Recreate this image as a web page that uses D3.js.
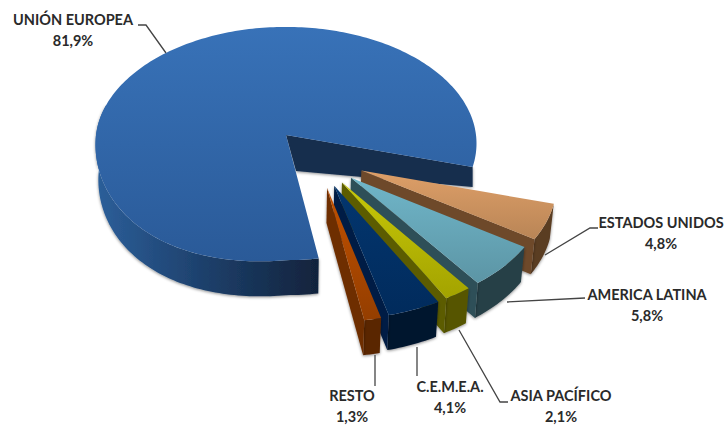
<!DOCTYPE html>
<meta charset="utf-8">
<style>
body { margin: 0; background: #fff; }
text {
  font: bold 14.5px Lato;
  fill: #2a2a2a;
  text-anchor: middle;
}
.leader {
  fill: none;
  stroke: #444;
  stroke-width: 1.3px;
}
</style>
<body>
<script src="https://d3js.org/d3.v7.min.js"></script>
<script>

const regions = ["UNIÓN EUROPEA", "ESTADOS UNIDOS", "AMERICA LATINA", "ASIA PACÍFICO", "C.E.M.E.A.", "RESTO"];
const shares = [81.9, 4.8, 5.8, 2.1, 4.1, 1.3];

// top (start, end), radial face, outer wall
const colors = [
  ["#3872b8", "#2a5a98", "#152d4d", "#2a5a92"],
  ["#de9f68", "#b98556", "#6e4a2c", "#5a3d24"],
  ["#70b6c9", "#5c95a5", "#2f5058", "#273f47"],
  ["#c8c808", "#a3a300", "#5c5c00", "#565500"],
  ["#03366f", "#012b5c", "#021f45", "#00152f"],
  ["#c25100", "#943e00", "#6e2f00", "#5a2600"]
];

// label centre and baselines, then the leader line
const labelLayout = [
  {x: 73, y: 25, line: [[138, 25], [146, 25], [166, 53]]},
  {x: 661, y: 228, line: [[545, 255], [590, 228], [598, 228]]},
  {x: 647, y: 300, line: [[507, 302], [585, 298]]},
  {x: 561, y: 401, line: [[459, 330], [500, 402], [508, 402]]},
  {x: 450, y: 392, line: [[417, 347], [417, 376]]},
  {x: 352, y: 401, line: [[375, 355], [375, 386]]}
];

let width = 726,
    height = 427,
    cx = 286,
    cy = 135,
    rx = 190,
    ry = 116,
    persp = 0.073,
    depth = 35,
    explode = 0.49,
    bulge = 9;

let svg = d3.select("body").append("svg")
            .attr("width", width)
            .attr("height", height)
            .style("display", "block"),
    defs = svg.append("defs");

let f = defs.append("filter").attr("id", "soft")
            .attr("x", "-10%").attr("y", "-10%").attr("width", "120%").attr("height", "120%");
f.append("feDropShadow")
    .attr("dx", 0).attr("dy", 1).attr("stdDeviation", 1.6)
    .attr("flood-color", "#000").attr("flood-opacity", 0.45);

colors.forEach((c, i) => {
    let g = defs.append("linearGradient").attr("id", "top" + i)
                .attr("x1", 0).attr("y1", 0).attr("x2", 0).attr("y2", 1);
    g.append("stop").attr("offset", 0).attr("stop-color", c[0]);
    g.append("stop").attr("offset", 1).attr("stop-color", c[1]);
});
let wr = defs.append("linearGradient").attr("id", "mainWallR")
             .attr("x1", 1).attr("y1", 0).attr("x2", 0).attr("y2", 0);
wr.append("stop").attr("offset", 0).attr("stop-color", "#11233c");
wr.append("stop").attr("offset", 0.5).attr("stop-color", "#1d3f6a");
wr.append("stop").attr("offset", 1).attr("stop-color", "#2c5f9a");

// same slice angles as a flat pie, 0 = 12 o'clock, clockwise
const arcs = d3.pie().sort(null).value(d => d)
               .startAngle((80.8 + 90) * Math.PI / 180)
               .endAngle((80.8 + 90 + 360) * Math.PI / 180)(shares);

function project(X, Y) {
    let s = 1 / (1 - persp * Y);
    return [cx + rx * X * s, cy + ry * Y * s];
}
function base(p, d = depth) {
    return [p[0] + (cx - p[0]) * 0.015, p[1] + d];
}
function arcPoints(a0, a1, ox, oy, bump = 0) {
    let n = Math.max(2, Math.ceil(Math.abs(a1 - a0) / 0.02));
    return d3.range(n + 1).map(i => {
        let t = a0 + (a1 - a0) * i / n - Math.PI / 2,
            p = project(ox + Math.cos(t), oy + Math.sin(t));
        // the front left of the big slice is fuller than a true ellipse
        if (Math.cos(t) < 0 && Math.sin(t) > 0) p[1] += bump * Math.abs(Math.sin(2 * t));
        return p;
    });
}

const line = d3.line();
const closed = pts => line(pts) + "Z";

// main slice
let main = arcs[0];
let mainG = svg.append("g");
let mainArc = arcPoints(main.startAngle, main.endAngle, 0, 0, bulge),
    apex = project(0, 0),
    endP = mainArc[mainArc.length - 1];

// cut face at the back, its base is shallower toward the rim
mainG.append("path")
    .attr("d", closed([apex, endP, [endP[0], endP[1] + 20], [apex[0] + 10, apex[1] + 36]]))
    .attr("fill", colors[0][2])
    .attr("filter", "url(#soft)");

// outer wall from the cut round to the left extreme
let wallTop = arcPoints(main.startAngle, main.startAngle + 2.0, 0, 0, bulge);
mainG.append("path")
    .attr("d", closed(wallTop.concat(wallTop.map(p => base(p)).reverse())))
    .attr("fill", "url(#mainWallR)")
    .attr("filter", "url(#soft)");

mainG.append("path")
    .attr("d", closed([apex].concat(mainArc)))
    .attr("fill", "url(#top0)");

// exploded slices, back to front
arcs.slice(1).forEach((d, i) => {
    let mid = (d.startAngle + d.endAngle) / 2 - Math.PI / 2 - 2 * Math.PI,
        dir = (37 + (mid * 180 / Math.PI - 23) * 0.5) * Math.PI / 180,
        ox = explode * Math.cos(dir),
        oy = explode * Math.sin(dir),
        pts = arcPoints(d.startAngle, d.endAngle, ox, oy),
        tip = project(ox, oy),
        last = pts[pts.length - 1],
        c = colors[i + 1],
        g = svg.append("g");

    g.append("path")
        .attr("d", closed(pts.concat(pts.map(p => base(p)).reverse())))
        .attr("fill", c[3])
        .attr("filter", "url(#soft)");
    g.append("path")
        .attr("d", closed([tip, last, base(last), base(tip)]))
        .attr("fill", c[2])
        .attr("filter", "url(#soft)");
    g.append("path")
        .attr("d", closed([tip].concat(pts)))
        .attr("fill", `url(#top${i + 1})`);
});

// leaders and labels
svg.selectAll("path.leader")
    .data(labelLayout)
    .join("path")
        .attr("class", "leader")
        .attr("d", d => line(d.line));

let labels = svg.selectAll("g.label")
    .data(regions)
    .join("g")
        .attr("class", "label")
        .attr("transform", (d, i) => `translate(${labelLayout[i].x},${labelLayout[i].y})`);
labels.append("text").text(d => d);
labels.append("text")
    .attr("y", 21)
    .text((d, i) => String(shares[i]).replace(".", ",") + "%");

</script>
</body>
